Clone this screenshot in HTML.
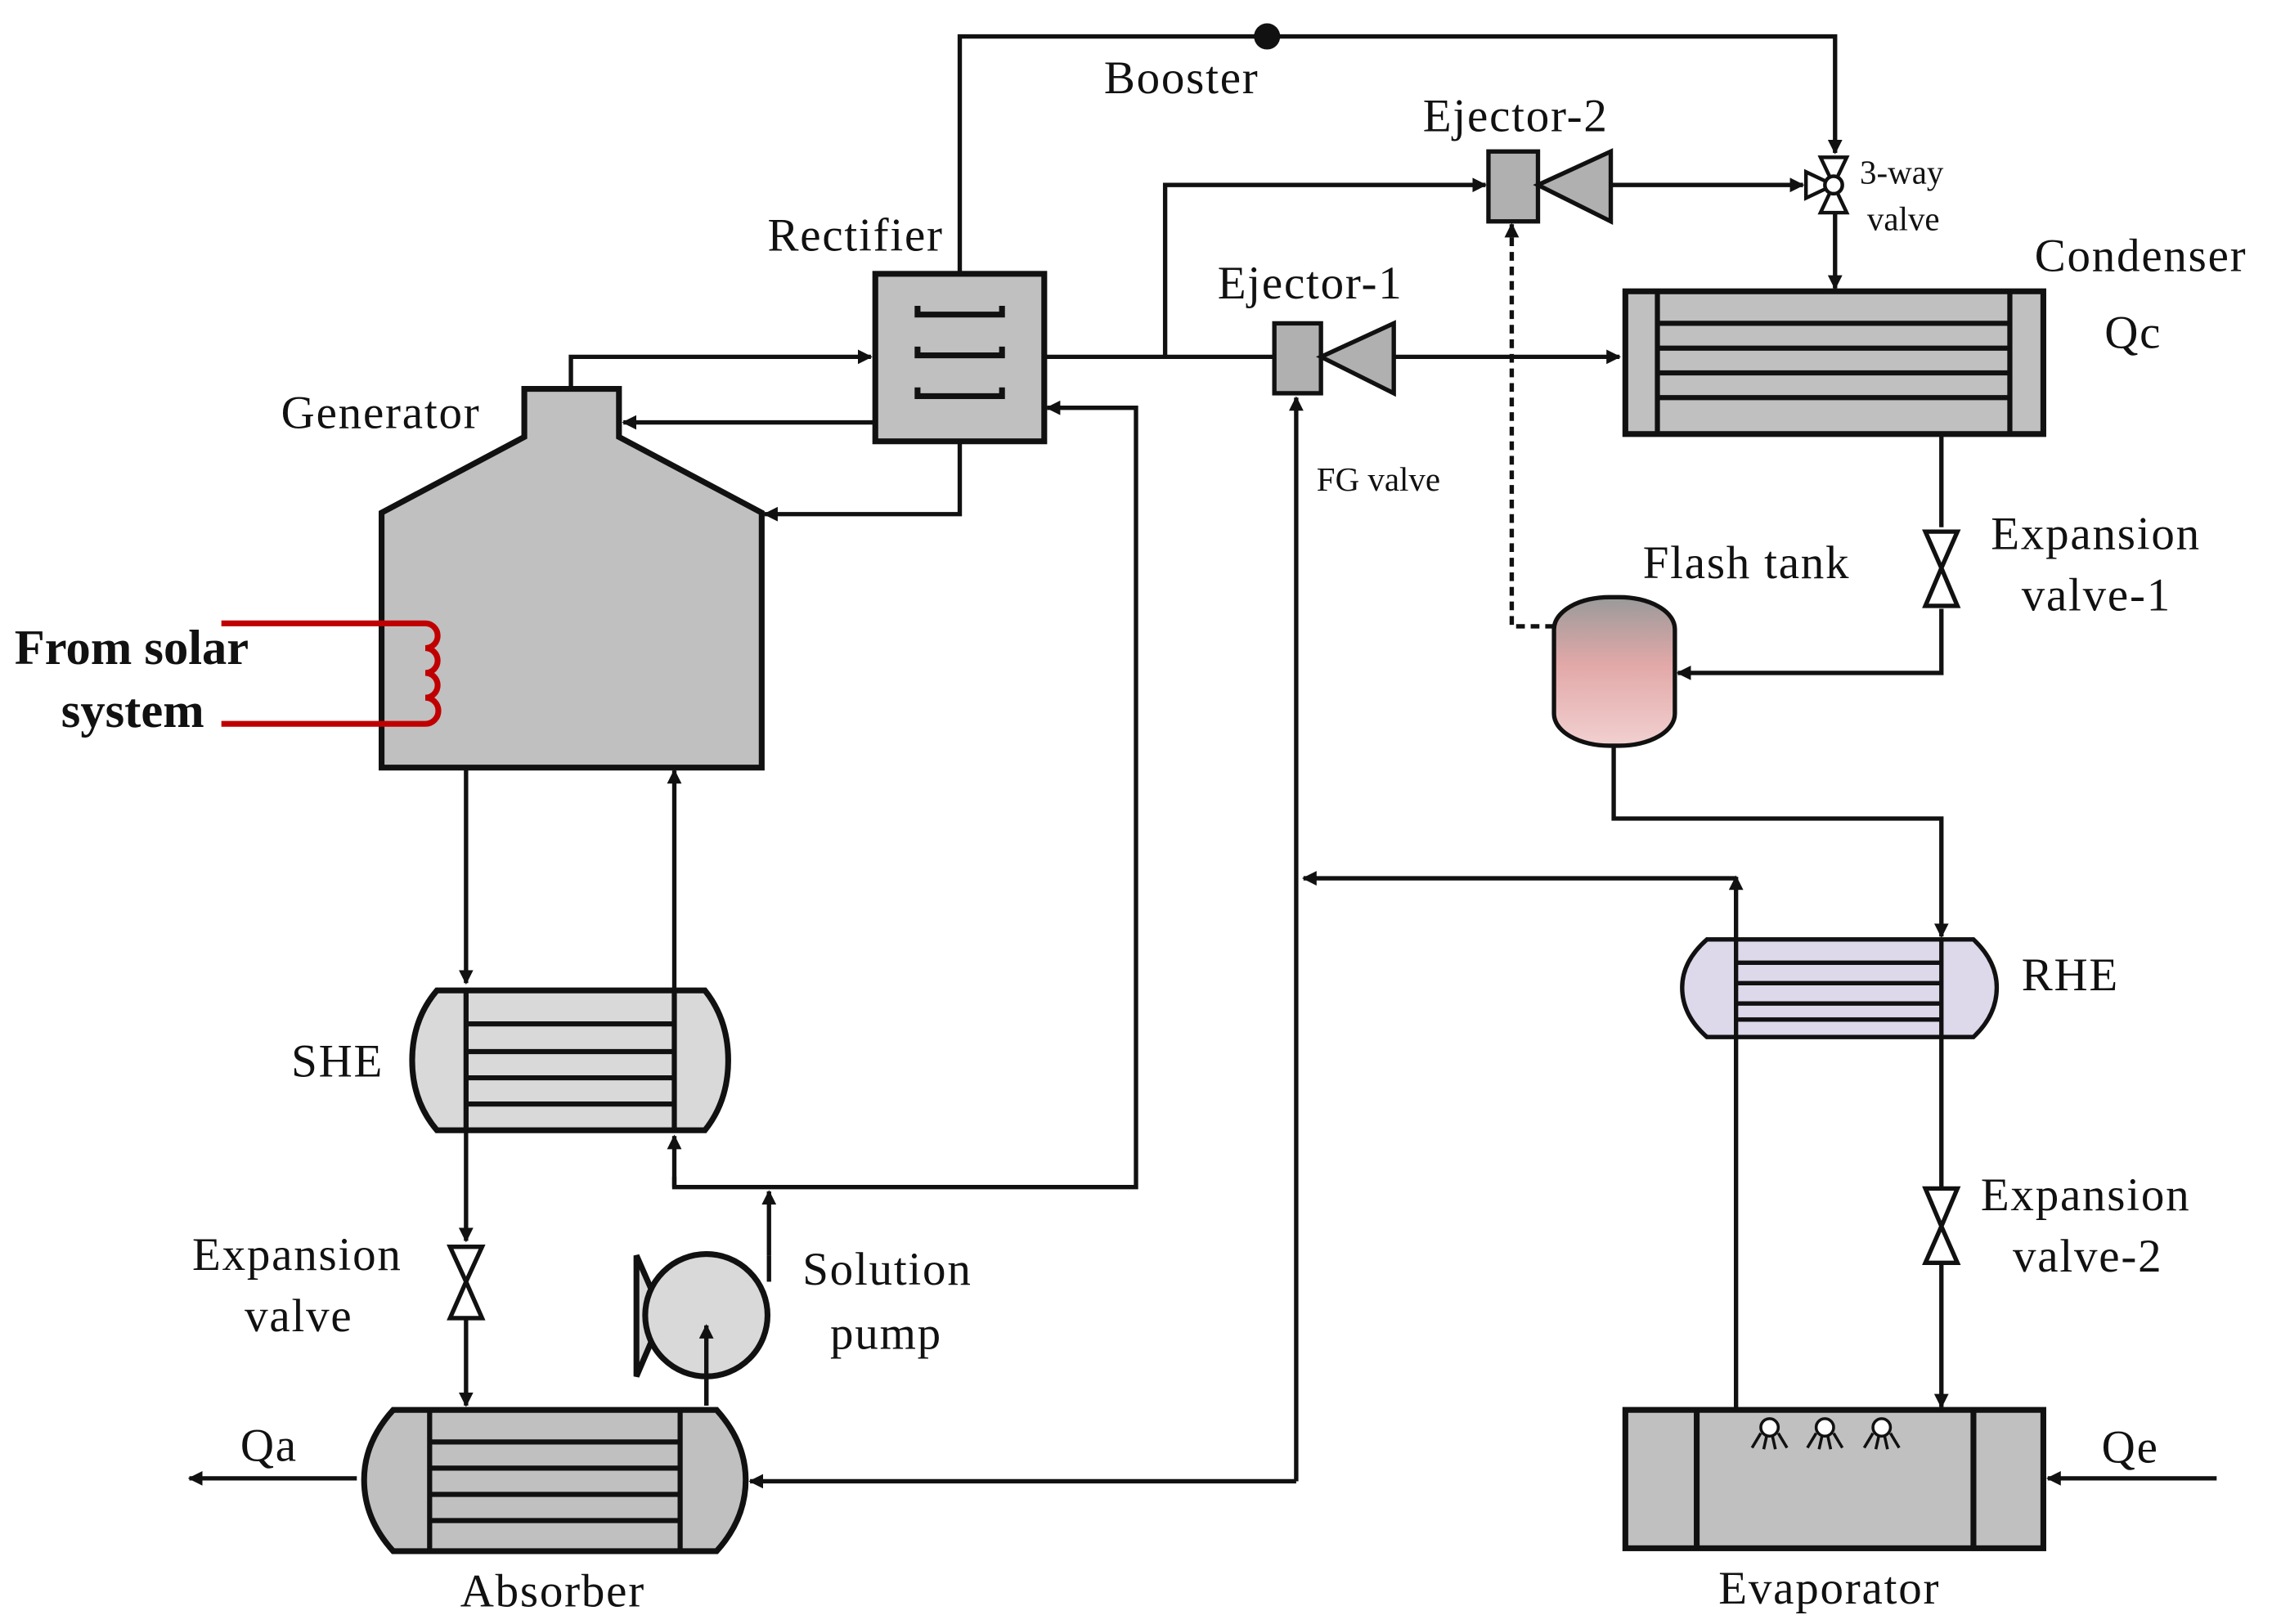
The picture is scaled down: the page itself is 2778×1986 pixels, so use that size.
<!DOCTYPE html>
<html><head><meta charset="utf-8"><style>
html,body{margin:0;padding:0;background:#fff}
svg{display:block}
text{font-family:"Liberation Serif",serif;fill:#111}
</style></head><body>
<svg width="2778" height="1986" viewBox="0 0 1560 1115" preserveAspectRatio="none" xmlns="http://www.w3.org/2000/svg">
<defs>
<marker id="a" markerWidth="10" markerHeight="10" refX="9" refY="5" orient="auto" markerUnits="userSpaceOnUse"><path d="M0,0 L10,5 L0,10 Z" fill="#111"/></marker>
<linearGradient id="ft" x1="0" y1="0" x2="0" y2="1"><stop offset="0" stop-color="#9a9a9a"/><stop offset="0.45" stop-color="#e2a8a8"/><stop offset="1" stop-color="#f2d0d0"/></linearGradient>
</defs>
<g stroke="#111" stroke-width="3" fill="none">
<polyline points="392,267 392,245 598,245" marker-end="url(#a)"/>
<polyline points="601,290 428,290" marker-end="url(#a)"/>
<polyline points="659,303 659,353 525,353" marker-end="url(#a)"/>
<polyline points="659,188 659,25 1260,25 1260,105" marker-end="url(#a)"/>
<polyline points="463,808 463,815 780,815 780,280 719,280" marker-end="url(#a)"/>
<line x1="463" y1="815" x2="463" y2="780" marker-end="url(#a)"/>
<polyline points="528,862 528,818" marker-end="url(#a)"/>
<polyline points="717,245 875,245"/>
<polyline points="800,245 800,127 1020,127" marker-end="url(#a)"/>
<polyline points="957,245 1112,245" marker-end="url(#a)"/>
<polyline points="1106,127 1238,127" marker-end="url(#a)"/>
<polyline points="1260,145 1260,198" marker-end="url(#a)"/>
<polyline points="1333,298 1333,362"/>
<polyline points="1333,418 1333,462 1152,462" marker-end="url(#a)"/>
<polyline points="1067,430 1038,430 1038,154" stroke-dasharray="6,4" marker-end="url(#a)"/>
<polyline points="1108,512 1108,562 1333,562 1333,643" marker-end="url(#a)"/>
<polyline points="1333,712 1333,815"/>
<polyline points="1333,868 1333,966" marker-end="url(#a)"/>
<polyline points="1192,968 1192,602" marker-end="url(#a)"/>
<polyline points="1192,603 895,603" marker-end="url(#a)"/>
<polyline points="890,1017 890,273" marker-end="url(#a)"/>
<polyline points="890,1017 515,1017" marker-end="url(#a)"/>
<polyline points="1522,1015 1406,1015" marker-end="url(#a)"/>
<polyline points="320,527 320,675" marker-end="url(#a)"/>
<polyline points="463,680 463,529" marker-end="url(#a)"/>
<polyline points="320,776 320,852" marker-end="url(#a)"/>
<polyline points="320,905 320,965" marker-end="url(#a)"/>
<polyline points="245,1015 130,1015" marker-end="url(#a)"/>
<polyline points="485,965 485,905" marker-end="url(#a)"/>
</g>
<circle cx="870" cy="25" r="9" fill="#111"/>
<polygon points="262,527 262,352 360,300 360,267 425,267 425,300 523,352 523,527" fill="#c0c0c0" stroke="#111" stroke-width="4"/>
<path d="M152,428 H292 a8,8 0 0 1 0,17 a8,8 0 0 1 0,17 a8,8 0 0 1 0,17 a8,8 0 0 1 0,18 H152" fill="none" stroke="#c00000" stroke-width="4"/>
<rect x="601" y="188" width="116" height="115" fill="#c0c0c0" stroke="#111" stroke-width="4"/>
<g stroke="#111" stroke-width="4" fill="none">
<path d="M630,210 V216 H688 V210"/><path d="M630,238 V244 H688 V238"/><path d="M630,266 V272 H688 V266"/>
</g>
<rect x="875" y="222" width="32" height="48" fill="#b0b0b0" stroke="#111" stroke-width="3"/>
<polygon points="907,245 957,222 957,270" fill="#b0b0b0" stroke="#111" stroke-width="3"/>
<rect x="1022" y="104" width="34" height="48" fill="#b0b0b0" stroke="#111" stroke-width="3"/>
<polygon points="1056,127 1106,104 1106,152" fill="#b0b0b0" stroke="#111" stroke-width="3"/>
<g stroke="#111" stroke-width="2.5" fill="#fff">
<polygon points="1250,108 1268,108 1259,127"/>
<polygon points="1250,146 1268,146 1259,127"/>
<polygon points="1240,118 1240,136 1259,127"/>
<circle cx="1259" cy="127" r="6"/>
</g>
<rect x="1116" y="200" width="287" height="98" fill="#c0c0c0" stroke="#111" stroke-width="4"/>
<g stroke="#111" stroke-width="3.5"><line x1="1138" y1="200" x2="1138" y2="298"/><line x1="1380" y1="200" x2="1380" y2="298"/>
<line x1="1138" y1="222" x2="1380" y2="222"/><line x1="1138" y1="239" x2="1380" y2="239"/><line x1="1138" y1="256" x2="1380" y2="256"/><line x1="1138" y1="273" x2="1380" y2="273"/></g>
<g stroke="#111" stroke-width="3" fill="#fff">
<polygon points="1322,365 1344,365 1333,390 1344,416 1322,416 1333,390"/>
<polygon points="1322,816 1344,816 1333,842 1344,867 1322,867 1333,842"/>
<polygon points="309,856 331,856 320,880 331,905 309,905 320,880"/>
</g>
<rect x="1067" y="410" width="83" height="102" rx="38" ry="22" fill="url(#ft)" stroke="#111" stroke-width="3"/>
<path d="M1172,645 H1355 Q1371,660 1371,678 Q1371,697 1355,712 H1172 Q1155,697 1155,678 Q1155,660 1172,645 Z" fill="#ddd8ea" stroke="#111" stroke-width="3"/>
<g stroke="#111" stroke-width="3"><line x1="1192" y1="645" x2="1192" y2="712"/><line x1="1333" y1="645" x2="1333" y2="712"/>
<line x1="1192" y1="661" x2="1333" y2="661"/><line x1="1192" y1="675" x2="1333" y2="675"/><line x1="1192" y1="689" x2="1333" y2="689"/><line x1="1192" y1="700" x2="1333" y2="700"/></g>
<rect x="1116" y="968" width="287" height="95" fill="#c0c0c0" stroke="#111" stroke-width="4"/>
<g stroke="#111" stroke-width="4"><line x1="1165" y1="968" x2="1165" y2="1063"/><line x1="1355" y1="968" x2="1355" y2="1063"/></g>
<g stroke="#111" stroke-width="2" fill="#fff">
<g transform="translate(1215,980)"><circle r="6"/><path d="M-6,4 L-12,14 M-2,6 L-4,15 M2,6 L4,15 M6,4 L12,14" fill="none"/></g>
<g transform="translate(1253,980)"><circle r="6"/><path d="M-6,4 L-12,14 M-2,6 L-4,15 M2,6 L4,15 M6,4 L12,14" fill="none"/></g>
<g transform="translate(1292,980)"><circle r="6"/><path d="M-6,4 L-12,14 M-2,6 L-4,15 M2,6 L4,15 M6,4 L12,14" fill="none"/></g>
</g>
<path d="M300,680 H484 Q500,700 500,728 Q500,756 484,776 H300 Q283,756 283,728 Q283,700 300,680 Z" fill="#d9d9d9" stroke="#111" stroke-width="4"/>
<g stroke="#111" stroke-width="3.5"><line x1="320" y1="680" x2="320" y2="776"/><line x1="463" y1="680" x2="463" y2="776"/>
<line x1="320" y1="703" x2="463" y2="703"/><line x1="320" y1="722" x2="463" y2="722"/><line x1="320" y1="740" x2="463" y2="740"/><line x1="320" y1="758" x2="463" y2="758"/></g>
<path d="M270,968 H492 Q512,990 512,1016 Q512,1043 492,1065 H270 Q250,1043 250,1016 Q250,990 270,968 Z" fill="#c0c0c0" stroke="#111" stroke-width="4"/>
<g stroke="#111" stroke-width="3.5"><line x1="295" y1="968" x2="295" y2="1065"/><line x1="467" y1="968" x2="467" y2="1065"/>
<line x1="295" y1="990" x2="467" y2="990"/><line x1="295" y1="1008" x2="467" y2="1008"/><line x1="295" y1="1026" x2="467" y2="1026"/><line x1="295" y1="1044" x2="467" y2="1044"/></g>
<polygon points="437,862 437,945 455,903" fill="#d9d9d9" stroke="#111" stroke-width="4"/>
<circle cx="485" cy="903" r="42" fill="#d9d9d9" stroke="#111" stroke-width="4"/>
<line x1="485" y1="965" x2="485" y2="910" stroke="#111" stroke-width="3" marker-end="url(#a)"/>
<line x1="528" y1="862" x2="528" y2="880" stroke="#111" stroke-width="3"/>
<g font-size="32" letter-spacing="1">
<text x="527" y="172">Rectifier</text>
<text x="193" y="294">Generator</text>
<text x="200" y="739">SHE</text>
<text x="132" y="872">Expansion</text>
<text x="168" y="914">valve</text>
<text x="551" y="882">Solution</text>
<text x="570" y="926">pump</text>
<text x="316" y="1103">Absorber</text>
<text x="165" y="1003">Qa</text>
<text x="758" y="64">Booster</text>
<text x="977" y="90">Ejector-2</text>
<text x="836" y="205">Ejector-1</text>
<text x="1397" y="186">Condenser</text>
<text x="1445" y="239">Qc</text>
<text x="1128" y="397">Flash tank</text>
<text x="1367" y="377">Expansion</text>
<text x="1388" y="419">valve-1</text>
<text x="1388" y="680">RHE</text>
<text x="1360" y="831">Expansion</text>
<text x="1382" y="873">valve-2</text>
<text x="1180" y="1101">Evaporator</text>
<text x="1443" y="1004">Qe</text>
</g>
<g font-size="34" font-weight="bold">
<text x="10" y="456">From solar</text>
<text x="42" y="499">system</text>
</g>
<g font-size="23">
<text x="1277" y="126">3-way</text>
<text x="1282" y="158">valve</text>
<text x="904" y="337">FG valve</text>
</g>
</svg>
</body></html>
